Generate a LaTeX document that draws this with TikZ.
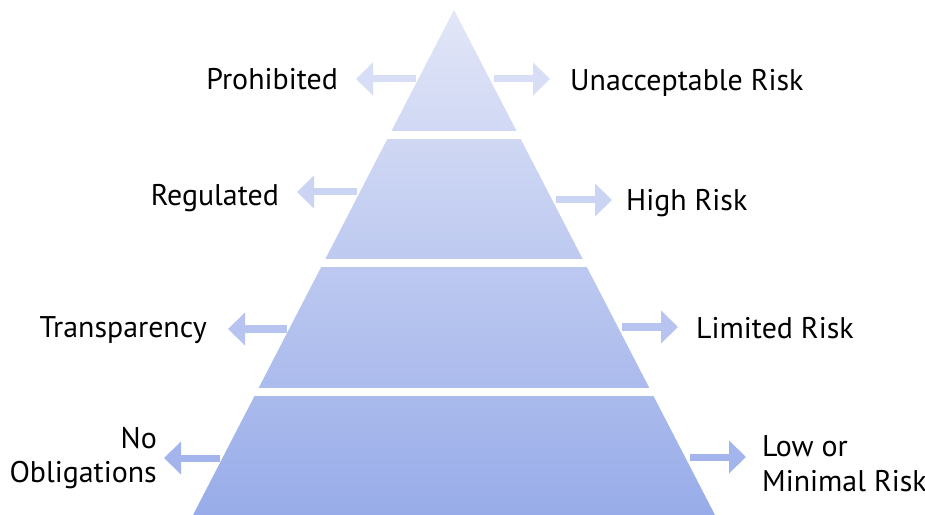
\documentclass[tikz,border=0pt]{standalone}
\usepackage{fontspec}
\setmainfont{PT Sans}
\usetikzlibrary{arrows.meta}

\definecolor{pyrtop}{RGB}{226,230,247}
\definecolor{pyrbot}{RGB}{152,172,233}
\definecolor{arrA}{RGB}{216,222,245}
\definecolor{arrB}{RGB}{203,212,242}
\definecolor{arrC}{RGB}{182,196,239}
\definecolor{arrD}{RGB}{163,181,236}

\tikzset{
  lbl/.style={font=\fontsize{30}{35}\selectfont, inner sep=0pt, text height=21bp, text depth=0bp},
  lbltwo/.style={font=\fontsize{30}{35}\selectfont, inner sep=0pt},
  blockarrow/.style={line width=7bp, -{Triangle[width=32bp,length=17bp]}},
}

\begin{document}
\begin{tikzpicture}[x=1bp,y=-1bp]
  \useasboundingbox (0,0) rectangle (925,515);

  % pyramid body with a vertical gradient
  \shade[top color=pyrtop, bottom color=pyrbot] (454,10) -- (715,515) -- (193,515) -- cycle;

  % white gaps between the tiers
  \fill[white] (150,131) rectangle (760,139);
  \fill[white] (150,259) rectangle (760,267);
  \fill[white] (150,388) rectangle (760,396);

  % labels
  \node[lbl, anchor=east] (prohib) at (338,79) {Prohibited};
  \node[lbl, anchor=west] (unacc) at (570,80.5) {Unacceptable Risk};
  \node[lbl, anchor=east] (regul) at (279,195) {Regulated};
  \node[lbl, anchor=west] (high) at (626,200) {High Risk};
  \node[lbl, anchor=east] (transp) at (207,327) {Transparency};
  \node[lbl, anchor=west] (limited) at (696,328) {Limited Risk};
  \node[lbltwo, anchor=east, align=right] (noobl) at (157,458) {No\\Obligations};
  \node[lbltwo, anchor=west, align=left] (lowmin) at (762,464) {Low or\\Minimal Risk};

  % arrow ends on the pyramid edges and near the labels
  \coordinate (t1l) at (416,79);  \coordinate (h1l) at (356,79);
  \coordinate (t1r) at (494,79);  \coordinate (h1r) at (550,79);
  \coordinate (t2l) at (357,192); \coordinate (h2l) at (297,192);
  \coordinate (t2r) at (556,200); \coordinate (h2r) at (612,200);
  \coordinate (t3l) at (287,329); \coordinate (h3l) at (228,329);
  \coordinate (t3r) at (622,327); \coordinate (h3r) at (678,327);
  \coordinate (t4l) at (220,458); \coordinate (h4l) at (164,458);
  \coordinate (t4r) at (690,457); \coordinate (h4r) at (746,457);

  \draw[blockarrow, arrA] (t1l) -- (h1l);
  \draw[blockarrow, arrA] (t1r) -- (h1r);
  \draw[blockarrow, arrB] (t2l) -- (h2l);
  \draw[blockarrow, arrB] (t2r) -- (h2r);
  \draw[blockarrow, arrC] (t3l) -- (h3l);
  \draw[blockarrow, arrC] (t3r) -- (h3r);
  \draw[blockarrow, arrD] (t4l) -- (h4l);
  \draw[blockarrow, arrD] (t4r) -- (h4r);
\end{tikzpicture}
\end{document}
